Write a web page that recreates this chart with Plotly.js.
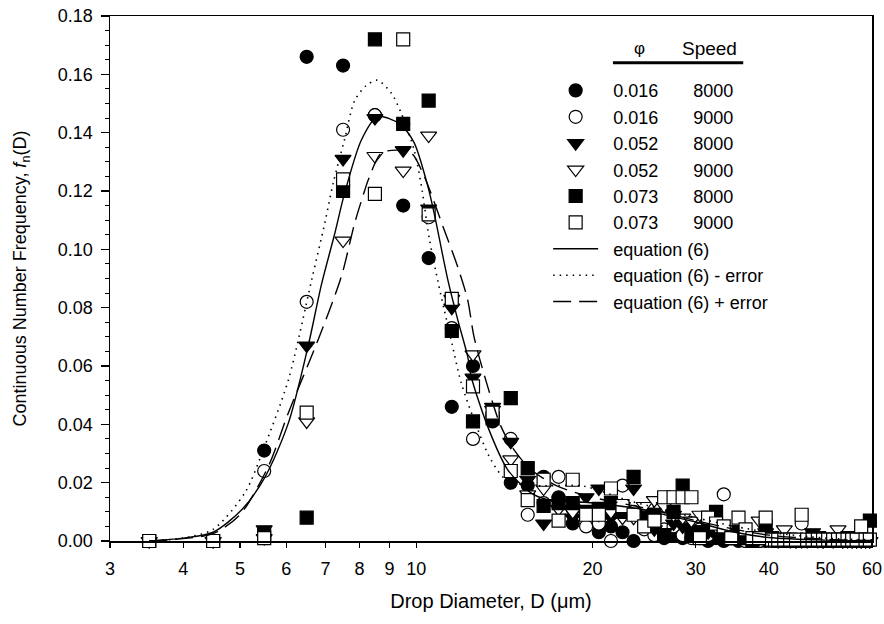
<!DOCTYPE html>
<html>
<head>
<meta charset="utf-8">
<script src="https://cdn.plot.ly/plotly-3.0.1.min.js"></script>
<style>
html,body{margin:0;padding:0;background:#fff;}
#chart{width:884px;height:624px;}
</style>
</head>
<body>
<div id="chart"></div>
<script>
// Drop diameter bins (µm), bin centres
const diameters = [3.5,4.5,5.5,6.5,7.5,8.5,9.5,10.5,11.5,12.5,13.5,14.5,15.5,16.5,17.5,18.5,19.5,20.5,21.5,22.5,23.5,24.5,25.5,26.5,27.5,28.5,29.5,30.5,31.5,32.5,33.5,34.5,35.5,36.5,37.5,38.5,39.5,40.5,41.5,42.5,43.5,44.5,45.5,46.5,47.5,48.5,49.5,50.5,51.5,52.5,53.5,54.5,55.5,56.5,57.5,58.5,59.5];

// phi = 0.016, speed 8000 (filled circle)
const f016_8000 = [0,0,0.031,0.166,0.163,0.146,0.115,0.097,0.046,0.060,0.041,0.020,0.019,0.022,0.015,0.006,0.011,0.003,0.005,0.003,0.000,0.006,0.003,0.001,0.002,0.001,0.003,0.001,0.000,0.001,0.000,0.001,0.000,0.000,0.000,0.000,0.000,0,0,0,0,0,0,0,0,0,0,0,0,0,0,0,0,0,0,0,0];
// phi = 0.016, speed 9000 (open circle)
const f016_9000 = [0,0,0.024,0.082,0.141,0.146,0.143,0.111,0.073,0.035,0.043,0.035,0.009,0.013,0.022,0.011,0.005,0.006,0.000,0.019,0.010,0.004,0.002,0.004,0.005,0.002,0.001,0.004,0.002,0.003,0.016,0.001,0.002,0.000,0.001,0.000,0.001,0,0,0,0,0,0.006,0,0,0,0,0,0,0,0,0,0,0,0,0,0];
// phi = 0.052, speed 8000 (filled triangle)
const f052_8000 = [0,0,0.004,0.067,0.131,0.145,0.134,0.114,0.080,0.056,0.046,0.034,0.021,0.006,0.013,0.008,0.015,0.018,0.008,0.012,0.018,0.010,0.004,0.003,0.006,0.005,0.007,0.004,0.003,0.002,0.004,0.002,0.001,0.001,0.001,0.001,0.002,0.001,0,0.001,0,0,0,0.001,0.003,0.002,0,0.001,0,0.001,0,0,0,0,0,0,0];
// phi = 0.052, speed 9000 (open triangle)
const f052_9000 = [0,0,0.001,0.041,0.103,0.132,0.127,0.139,0.083,0.064,0.045,0.028,0.016,0.018,0.011,0.010,0.012,0.009,0.010,0.008,0.008,0.012,0.014,0.012,0.009,0.008,0.007,0.009,0.006,0.005,0.003,0.004,0.003,0.002,0.002,0.007,0.003,0.001,0.001,0.004,0.001,0,0.001,0,0.001,0,0,0.001,0.001,0.004,0,0.001,0,0,0,0,0];
// phi = 0.073, speed 8000 (filled square)
const f073_8000 = [0,0,0.002,0.008,0.120,0.172,0.143,0.151,0.072,0.041,0.042,0.049,0.025,0.012,0.013,0.013,0.010,0.011,0.013,0.010,0.022,0.008,0.009,0.002,0.010,0.019,0.002,0.003,0.006,0.010,0.002,0.001,0.003,0.001,0.000,0.001,0.005,0.001,0,0,0,0,0,0,0.001,0,0,0,0,0,0,0.001,0,0,0,0,0.007];
// phi = 0.073, speed 9000 (open square)
const f073_9000 = [0,0,0.001,0.044,0.124,0.119,0.172,0.112,0.083,0.053,0.044,0.024,0.014,0.021,0.007,0.021,0.009,0.009,0.018,0.012,0.009,0.005,0.007,0.015,0.015,0.015,0.015,0.001,0.008,0.006,0.005,0.001,0.008,0.004,0.001,0.001,0.008,0.0005,0.0005,0.0005,0.0005,0.0005,0.009,0.0005,0.0005,0.0005,0.0005,0.0005,0.0005,0.0005,0.0005,0.0005,0.0005,0.0005,0.005,0.0005,0.0005];

// equation (6) curve
const eqD = [3.5,4.0,4.5,5.04,5.52,6.05,6.54,6.89,7.25,7.54,8.06,8.58,8.95,9.43,9.92,10.47,10.74,11.32,11.77,12.24,12.41,13.24,14.32,15.69,16.75,19.85,24.4,27.2,30,35,40,50,60];
const eqY = [0,0.001,0.003,0.0108,0.022,0.0405,0.067,0.088,0.105,0.119,0.1375,0.1455,0.145,0.1425,0.1365,0.1215,0.112,0.0896,0.0759,0.0633,0.0564,0.0393,0.0245,0.0165,0.0142,0.0131,0.0108,0.0085,0.0065,0.003,0.0012,0.0003,0.0001];
// equation (6) - error
const eqMinusD = [3.5,4.0,4.5,5.10,5.51,6.05,6.63,6.98,7.22,7.54,7.85,8.2,8.58,9.07,9.43,9.92,10.2,10.52,10.89,11.17,11.47,11.93,12.55,13.41,14.32,16.0,19.3,22.9,25,30,35,40,50,60];
const eqMinusY = [0,0.001,0.004,0.0166,0.0325,0.0553,0.0896,0.109,0.123,0.1375,0.151,0.156,0.158,0.1535,0.1466,0.134,0.122,0.104,0.089,0.079,0.069,0.0543,0.0416,0.0279,0.0205,0.019,0.0188,0.014,0.012,0.008,0.005,0.003,0.001,0.0004];
// equation (6) + error
const eqPlusD = [3.5,4.0,4.5,5.0,5.59,6.05,6.80,7.45,7.85,8.16,8.28,8.72,9.31,9.81,10.32,11.16,11.77,12.24,12.55,13.24,13.95,14.68,15.69,17.42,20,25,30,35,40,50,60];
const eqPlusY = [0,0.0008,0.0025,0.009,0.0256,0.044,0.069,0.0907,0.109,0.120,0.1238,0.133,0.134,0.133,0.125,0.1067,0.094,0.0827,0.070,0.053,0.0393,0.0313,0.0245,0.0188,0.015,0.011,0.007,0.004,0.002,0.0006,0.0002];

// tick labels
const xTickVals = [3,4,5,6,7,8,9,10,20,30,40,50,60];
const xTickText = ['3','4','5','6','7','8','9','10','20','30','40','50','60'];

// legend labels
const phiLabels = ['0.016','0.016','0.052','0.052','0.073','0.073'];
const speedLabels = ['8000','9000','8000','9000','8000','9000'];
const curveLabels = ['equation (6)','equation (6) - error','equation (6) + error'];

const NB = '\u00A0';
function lbl(i){ return NB.repeat(2) + phiLabels[i] + NB.repeat(7) + speedLabels[i]; }

const FONT = 'Arial, "Liberation Sans", Helvetica, sans-serif';
const MS = 13;

function pts(y, i, symbol, fill){
  return {
    x: diameters, y: y, type: 'scatter', mode: 'markers', name: lbl(i),
    cliponaxis: false,
    marker: {symbol: symbol, size: symbol.indexOf('triangle') === 0 ? 14 : MS, color: fill,
             line: {color: '#000', width: 1.2}}
  };
}

const traces = [
  pts(f016_8000, 0, 'circle', '#000'),
  pts(f016_9000, 1, 'circle', '#fff'),
  pts(f052_8000, 2, 'triangle-down', '#000'),
  pts(f052_9000, 3, 'triangle-down', '#fff'),
  pts(f073_8000, 4, 'square', '#000'),
  pts(f073_9000, 5, 'square', '#fff'),
  {x: eqD, y: eqY, type: 'scatter', mode: 'lines', name: NB.repeat(2) + curveLabels[0],
   line: {color: '#000', width: 1.4, shape: 'spline', smoothing: 0.8}},
  {x: eqMinusD, y: eqMinusY, type: 'scatter', mode: 'lines', name: NB.repeat(2) + curveLabels[1],
   line: {color: '#000', width: 1.6, dash: '1.5px,5px', shape: 'spline', smoothing: 0.8}},
  {x: eqPlusD, y: eqPlusY, type: 'scatter', mode: 'lines', name: NB.repeat(2) + curveLabels[2],
   line: {color: '#000', width: 1.4, dash: '18px,8px', shape: 'spline', smoothing: 0.8}}
];

const layout = {
  width: 884, height: 624,
  margin: {l: 110, r: 12, t: 16, b: 83},
  paper_bgcolor: '#fff', plot_bgcolor: '#fff',
  font: {family: FONT, color: '#000', size: 18},
  showlegend: true,
  legend: {x: 0.575, y: 0.893, xanchor: 'left', yanchor: 'top', bgcolor: 'rgba(0,0,0,0)',
           font: {family: FONT, size: 18, color: '#000'}, itemwidth: 45, tracegroupgap: 0},
  xaxis: {
    type: 'log', range: [Math.log10(3), Math.log10(60)],
    tickmode: 'array', tickvals: xTickVals, ticktext: xTickText,
    ticks: 'outside', ticklen: 5, tickwidth: 1.2, tickcolor: '#000',
    showline: true, linecolor: '#000', linewidth: 1.5, mirror: true,
    showgrid: false, zeroline: false,
    tickfont: {family: FONT, size: 18},
    ticklabelstandoff: 6,
    title: {text: 'Drop Diameter, D (\u03bcm)', font: {family: FONT, size: 20}, standoff: 16}
  },
  yaxis: {
    range: [0, 0.18], dtick: 0.02, tick0: 0, tickformat: '.2f',
    ticks: 'outside', ticklen: 8, tickwidth: 1.2, tickcolor: '#000',
    minor: {dtick: 0.005, ticks: 'outside', ticklen: 4, tickwidth: 1, tickcolor: '#000', showgrid: false},
    showline: true, linecolor: '#000', linewidth: 1.5, mirror: true,
    showgrid: false, zeroline: false,
    tickfont: {family: FONT, size: 18},
    ticklabelstandoff: 4,
    title: {text: 'Continuous Number Frequency, <i>f</i><sub>n</sub>(D)', font: {family: FONT, size: 18}, standoff: 26}
  },
  annotations: [
    {xref: 'paper', yref: 'paper', x: 0.6955, y: 0.939, text: '\u03c6', showarrow: false,
     font: {family: FONT, size: 17}, xanchor: 'center', yanchor: 'middle'},
    {xref: 'paper', yref: 'paper', x: 0.787, y: 0.939, text: 'Speed', showarrow: false,
     font: {family: FONT, size: 19}, xanchor: 'center', yanchor: 'middle'}
  ],
  shapes: [
    {type: 'line', xref: 'paper', yref: 'paper', x0: 0.660, x1: 0.831, y0: 0.911, y1: 0.911,
     line: {color: '#000', width: 3}}
  ]
};

Plotly.newPlot('chart', traces, layout, {displayModeBar: false, staticPlot: true});
</script>
</body>
</html>
